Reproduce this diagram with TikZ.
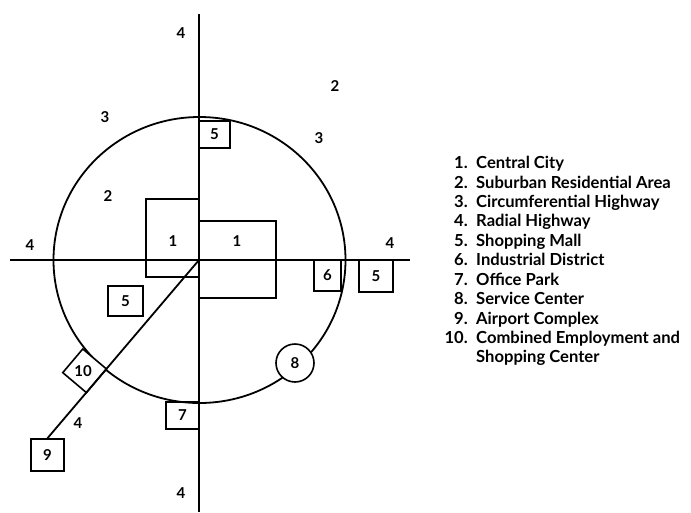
\documentclass[tikz,border=0pt]{standalone}
\usepackage{fontspec}
\setmainfont{Lato}
\begin{document}
\begin{tikzpicture}[x=1pt,y=-1pt,
  road/.style={line width=1.8pt},
  lot/.style={draw, line width=1.6pt, inner sep=0pt},
  num/.style={font=\fontsize{15}{15}\selectfont\bfseries, inner sep=0pt},
  legn/.style={font=\fontsize{16.6}{17}\selectfont\bfseries, inner sep=0pt, anchor=base east},
  legt/.style={font=\fontsize{16.6}{17}\selectfont\bfseries, inner sep=0pt, anchor=base west}]
\useasboundingbox (0,0) rectangle (691,512);
% road network
\coordinate (hub) at (199,260);
\coordinate (nT) at (199,14);
\coordinate (nB) at (199,512);
\coordinate (wE) at (10,260);
\coordinate (eE) at (410,260);
\draw[road] (199.5,260) ellipse [x radius=146, y radius=143];
\draw[road] (nT) -- (nB);
\draw[road] (wE) -- (eE);
% land uses
\node[lot, minimum width=53, minimum height=78] (c1a) at (172.5,238) {};
\node[num] (t1a) at (173,241) {1};
\node[lot, minimum width=77, minimum height=77] (c1b) at (237.5,259.5) {};
\node[num] (t1b) at (237,241) {1};
\node[lot, num, draw, minimum width=31, minimum height=27] (m5a) at (214.5,134.5) {5};
\node[lot, num, draw, minimum width=27, minimum height=31] (i6) at (327.5,275.5) {6};
\node[lot, num, draw, minimum width=34, minimum height=32] (m5b) at (376,276) {5};
\node[lot, num, draw, minimum width=35, minimum height=30] (m5c) at (125.5,301) {5};
\node[lot, num, draw, minimum width=33, minimum height=32] (a9) at (47.5,455) {9};
\node[lot, num, draw, minimum width=33, minimum height=27] (o7) at (182.5,415.5) {7};
\node[lot, num, draw, circle, fill=white, minimum size=38] (s8) at (295,363) {8};
\node[lot, fill=white, minimum size=31, rotate=49.8] (d10) at (84.6,370.8) {};
\node[num] (t10) at (83,371) {10};
\draw[road] (hub) -- (a9.north);
% free labels
\node[num] (l4a) at (181,33) {4};
\node[num] (l3a) at (105,117) {3};
\node[num] (l2a) at (335,86) {2};
\node[num] (l3b) at (319,138) {3};
\node[num] (l2b) at (108,196) {2};
\node[num] (l4b) at (30,245) {4};
\node[num] (l4c) at (390,243) {4};
\node[num] (l4d) at (78,423) {4};
\node[num] (l4e) at (181,493) {4};
% legend
\node[legn] (n1) at (468,168) {1.};
\node[legt] (e1) at (476,168) {Central City};
\node[legn] (n2) at (468,188) {2.};
\node[legt] (e2) at (476,188) {Suburban Residential Area};
\node[legn] (n3) at (468,207) {3.};
\node[legt] (e3) at (476,207) {Circumferential Highway};
\node[legn] (n4) at (468,226) {4.};
\node[legt] (e4) at (476,226) {Radial Highway};
\node[legn] (n5) at (468,246) {5.};
\node[legt] (e5) at (476,246) {Shopping Mall};
\node[legn] (n6) at (468,265) {6.};
\node[legt] (e6) at (476,265) {Industrial District};
\node[legn] (n7) at (468,285) {7.};
\node[legt] (e7) at (476,285) {Office Park};
\node[legn] (n8) at (468,304) {8.};
\node[legt] (e8) at (476,304) {Service Center};
\node[legn] (n9) at (468,324) {9.};
\node[legt] (e9) at (476,324) {Airport Complex};
\node[legn] (n10) at (468,343) {10.};
\node[legt] (e10) at (476,343) {Combined Employment and};
\node[legt] (e11) at (476,362) {Shopping Center};
\end{tikzpicture}
\end{document}
